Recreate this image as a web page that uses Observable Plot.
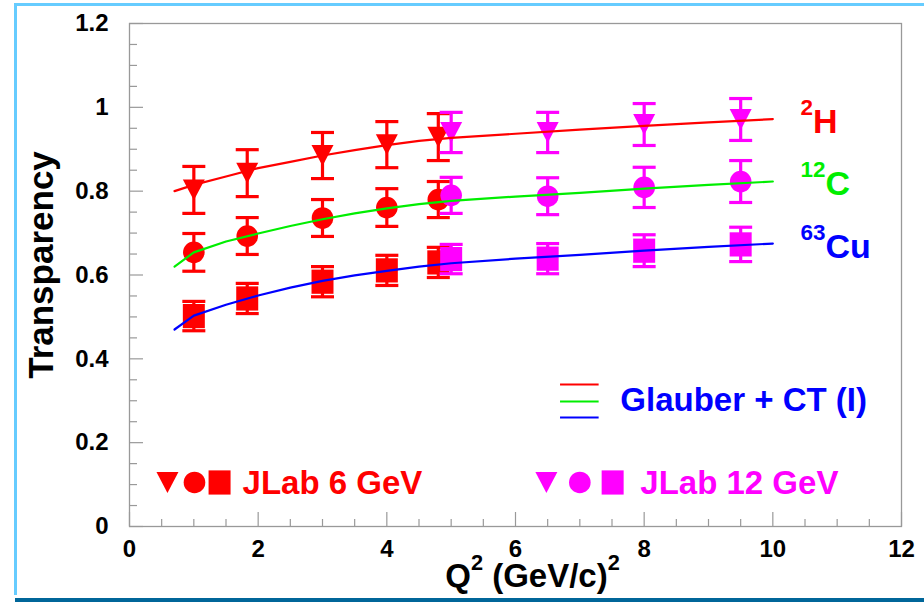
<!DOCTYPE html>
<html><head><meta charset="utf-8">
<script src="https://cdn.jsdelivr.net/npm/d3@7"></script>
<script src="https://cdn.jsdelivr.net/npm/@observablehq/plot@0.6"></script>
<style>
html,body{margin:0;padding:0;background:#fff;}
#wrap{position:relative;width:924px;height:603px;overflow:hidden;}
#wrap svg{position:absolute;left:0;top:0;}
.bt{position:absolute;left:14px;top:3px;width:910px;height:3px;background:#66ccff;}
.bl{position:absolute;left:14px;top:3px;width:3px;height:592px;background:#66ccff;}
.bb{position:absolute;left:15px;top:598px;width:909px;height:4px;background:#006699;}
</style></head><body><div id="wrap"><div class="bt"></div><div class="bl"></div><div class="bb"></div></div>
<script>
// ---------- data ----------
const xTicks = [0, 2, 4, 6, 8, 10, 12];
const yTicks = [0, 0.2, 0.4, 0.6, 0.8, 1, 1.2];

// JLab 6 GeV
const q2_6 = [1.0, 1.83, 3.0, 4.0, 4.8];
const H_6 = [0.803, 0.843, 0.885, 0.911, 0.929];
const H_6_err = [0.056, 0.056, 0.055, 0.055, 0.056];
const C_6 = [0.654, 0.693, 0.736, 0.761, 0.780];
const C_6_err = [0.045, 0.044, 0.044, 0.045, 0.043];
const Cu_6 = [0.502, 0.544, 0.584, 0.611, 0.630];
const Cu_6_err = [0.035, 0.036, 0.036, 0.036, 0.036];

// JLab 12 GeV
const q2_12 = [5.0, 6.5, 8.0, 9.5];
const H_12 = [0.940, 0.940, 0.959, 0.971];
const H_12_err = [0.048, 0.048, 0.050, 0.050];
const C_12 = [0.790, 0.788, 0.809, 0.823];
const C_12_err = [0.043, 0.044, 0.048, 0.050];
const Cu_12 = [0.638, 0.639, 0.658, 0.673];
const Cu_12_err = [0.035, 0.036, 0.038, 0.041];

// Glauber + CT (I) curves
const q2_curve = [0.7, 1.0, 1.5, 2, 2.5, 3, 3.5, 4, 4.5, 5, 6, 7, 8, 9, 10];
const H_curve  = [0.800, 0.815, 0.835, 0.855, 0.870, 0.885, 0.898, 0.910, 0.920, 0.927, 0.937, 0.947, 0.956, 0.964, 0.972];
const C_curve  = [0.620, 0.654, 0.680, 0.699, 0.717, 0.733, 0.747, 0.759, 0.769, 0.777, 0.787, 0.796, 0.806, 0.815, 0.823];
const Cu_curve = [0.470, 0.503, 0.529, 0.551, 0.570, 0.586, 0.599, 0.610, 0.620, 0.628, 0.639, 0.648, 0.658, 0.667, 0.675];

const nuclei = ["^{2}H", "^{12}C", "^{63}Cu"];
const RED = "#ff0000", MAG = "#ff00ff", GREEN = "#00ee00", BLUE = "#0000ff";
const curveColors = [RED, GREEN, BLUE];

// ---------- helpers ----------
const rows = (q, t, e) => q.map((v, i) => ({q2: v, t: t[i], err: e ? e[i] : 0}));
const triDown = {draw(ctx, size) { const r = Math.sqrt(size / Math.PI); ctx.moveTo(-r, -0.95 * r); ctx.lineTo(r, -0.95 * r); ctx.lineTo(0, 0.95 * r); ctx.closePath(); }};
const square = {draw(ctx, size) { const r = Math.sqrt(size / Math.PI); ctx.moveTo(-r, -1.1 * r); ctx.lineTo(r, -1.1 * r); ctx.lineTo(r, 1.1 * r); ctx.lineTo(-r, 1.1 * r); ctx.closePath(); }};
const circ = {draw(ctx, size) { const r = Math.sqrt(size / Math.PI); ctx.moveTo(r, 0); ctx.arc(0, 0, r, 0, 2 * Math.PI); }};
const cap = {draw(ctx, size) { const r = Math.sqrt(size / Math.PI); ctx.moveTo(-r, 0); ctx.lineTo(r, 0); }};
const markerDefs = [{symbol: triDown, r: 11}, {symbol: circ, r: 10.8}, {symbol: square, r: 11}];

function series(data, m, color) {
  return [
    Plot.ruleX(data, {x: "q2", y1: d => d.t - d.err, y2: d => d.t + d.err, stroke: color, strokeWidth: 3.2}),
    Plot.dot(data, {x: "q2", y: d => d.t - d.err, symbol: cap, r: 11.5, stroke: color, strokeWidth: 3.2, fill: "none"}),
    Plot.dot(data, {x: "q2", y: d => d.t + d.err, symbol: cap, r: 11.5, stroke: color, strokeWidth: 3.2, fill: "none"}),
    Plot.dot(data, {x: "q2", y: "t", symbol: m.symbol, r: m.r, fill: color, stroke: "none"})
  ];
}

const data6 = [rows(q2_6, H_6, H_6_err), rows(q2_6, C_6, C_6_err), rows(q2_6, Cu_6, Cu_6_err)];
const data12 = [rows(q2_12, H_12, H_12_err), rows(q2_12, C_12, C_12_err), rows(q2_12, Cu_12, Cu_12_err)];
const curves = [rows(q2_curve, H_curve), rows(q2_curve, C_curve), rows(q2_curve, Cu_curve)];

const FW = 924 - 129 - 23, FH = 603 - 23 - 77;
const xMinor = d3.range(0.5, 12, 0.5).filter(v => v % 2 !== 0);
const yMinor = d3.range(0.05, 1.2, 0.05).filter(v => Math.abs(v / 0.2 - Math.round(v / 0.2)) > 1e-6);
const grey = "#999";

const marks = [
  Plot.frame({stroke: grey, strokeWidth: 1.3}),
  Plot.tickX(xMinor, {x: d => d, stroke: grey, strokeWidth: 1.2, insetTop: FH - 7}),
  Plot.tickX(xTicks, {x: d => d, stroke: grey, strokeWidth: 1.2, insetTop: FH - 14}),
  Plot.tickY(yMinor, {y: d => d, stroke: grey, strokeWidth: 1.2, insetRight: FW - 8}),
  Plot.tickY(yTicks, {y: d => d, stroke: grey, strokeWidth: 1.2, insetRight: FW - 14}),
  Plot.axisX(xTicks, {tickSize: 0, tickPadding: 13, fontSize: 24, fontWeight: "bold", label: null, tickFormat: d => `${d}`}),
  Plot.axisY(yTicks, {tickSize: 0, tickPadding: 21, fontSize: 24, fontWeight: "bold", label: null, tickFormat: d => `${d}`}),
  Plot.text(["Transparency"], {frameAnchor: "left", rotate: -90, textAnchor: "middle", lineAnchor: "middle", dx: -88, dy: -10, fontSize: 35, fontWeight: "bold", fill: "black"}),
  Plot.text(["Q^{2} (GeV/c)^{2}"], {frameAnchor: "bottom", textAnchor: "middle", lineAnchor: "middle", dx: 17, dy: 50, fontSize: 33, fontWeight: "bold", fill: "black"}),
];
data6.forEach((d, i) => marks.push(...series(d, markerDefs[i], RED)));
data12.forEach((d, i) => marks.push(...series(d, markerDefs[i], MAG)));
curves.forEach((d, i) => marks.push(Plot.line(d, {x: "q2", y: "t", stroke: curveColors[i], strokeWidth: 2.2})));

// nucleus labels
const labelY = [0.964, 0.816, 0.666];
nuclei.forEach((n, i) => marks.push(Plot.text([n], {x: 10.43, y: labelY[i], textAnchor: "start", lineAnchor: "middle", fontSize: 34, fontWeight: "bold", fill: curveColors[i]})));

// legend: Glauber + CT (I)
[0.339, 0.298, 0.26].forEach((y, i) => marks.push(Plot.ruleY([y], {y: d => d, x1: 6.70, x2: 7.30, stroke: curveColors[i], strokeWidth: 2})));
marks.push(Plot.text(["Glauber + CT (I)"], {x: 7.63, y: 0.301, textAnchor: "start", lineAnchor: "middle", fontSize: 33, fontWeight: "bold", fill: BLUE}));

// legend: JLab 6 GeV / 12 GeV
const leg6x = [0.59, 1.01, 1.40], leg12x = [6.48, 7.0, 7.51];
markerDefs.forEach((m, i) => {
  marks.push(Plot.dot([0], {x: leg6x[i], y: 0.105, symbol: m.symbol, r: m.r, fill: RED, stroke: "none"}));
  marks.push(Plot.dot([0], {x: leg12x[i], y: 0.105, symbol: m.symbol, r: m.r, fill: MAG, stroke: "none"}));
});
marks.push(Plot.text(["JLab 6 GeV"], {x: 1.757, y: 0.103, textAnchor: "start", lineAnchor: "middle", fontSize: 33, fontWeight: "bold", fill: RED}));
marks.push(Plot.text(["JLab 12 GeV"], {x: 7.94, y: 0.103, textAnchor: "start", lineAnchor: "middle", fontSize: 33, fontWeight: "bold", fill: MAG}));

const svg = Plot.plot({
  width: 924, height: 603,
  marginLeft: 129, marginRight: 23, marginTop: 23, marginBottom: 77,
  x: {domain: [0, 12]},
  y: {domain: [0, 1.2]},
  style: {fontFamily: "'Liberation Sans', Arial, sans-serif", fontSize: "24px", fontWeight: "bold", background: "transparent", color: "black"},
  marks
});
const wrap = document.getElementById("wrap");
wrap.insertBefore(svg, wrap.firstChild);

// superscripts: ^{..}
svg.querySelectorAll("text").forEach(t => {
  const s = t.textContent;
  if (!s.includes("^{")) return;
  const fs = parseFloat(getComputedStyle(t).fontSize);
  const parts = s.split(/(\^\{[^}]*\})/).filter(p => p);
  t.textContent = "";
  let raised = false;
  for (const p of parts) {
    const ts = document.createElementNS("http://www.w3.org/2000/svg", "tspan");
    const m = p.match(/^\^\{(.*)\}$/);
    if (m) {
      ts.textContent = m[1];
      ts.setAttribute("font-size", (fs * 0.66) + "px");
      if (!raised) ts.setAttribute("dy", -0.53 * fs);
      raised = true;
    } else {
      ts.textContent = p;
      if (raised) { ts.setAttribute("dy", 0.53 * fs); raised = false; }
    }
    t.appendChild(ts);
  }
});
</script></body></html>
